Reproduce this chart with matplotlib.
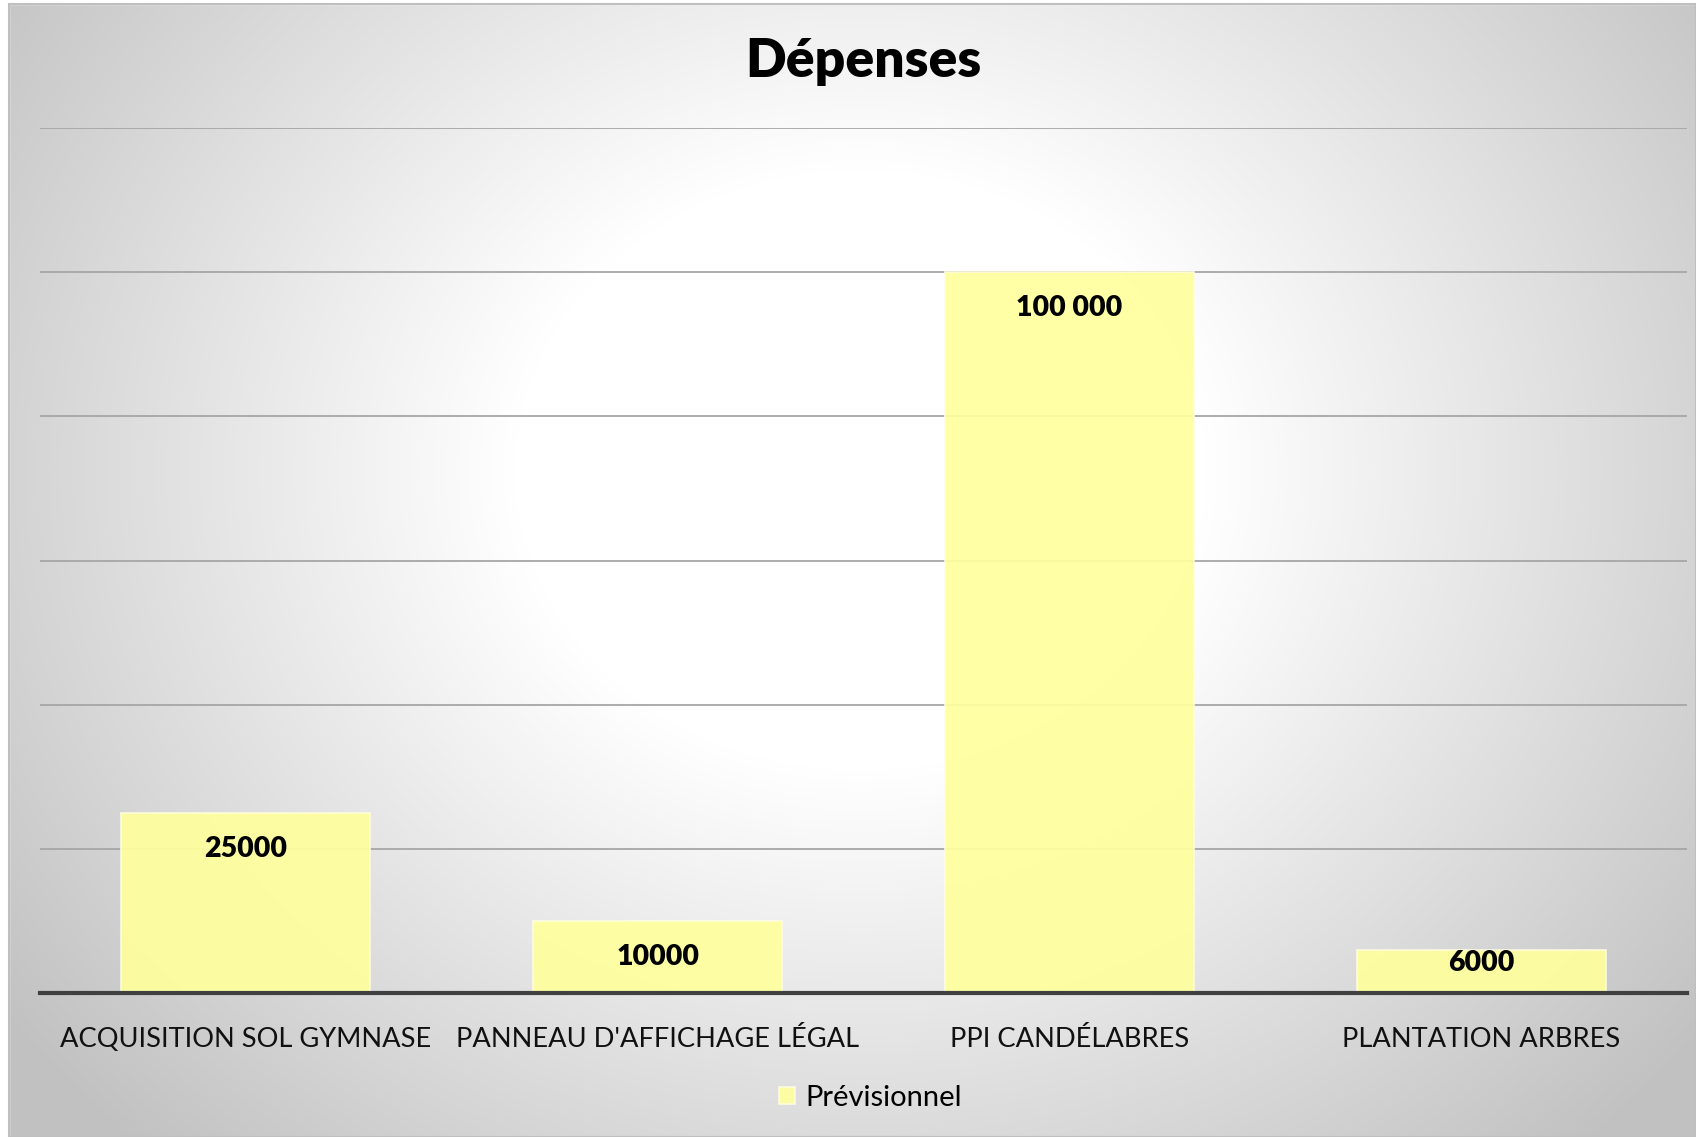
import numpy as np
import matplotlib
matplotlib.use('Agg')
import matplotlib.pyplot as plt
from matplotlib.patches import Rectangle

# Data
categories = ['ACQUISITION SOL GYMNASE', "PANNEAU D'AFFICHAGE LÉGAL",
              'PPI CANDÉLABRES', 'PLANTATION ARBRES']
values = [25000, 10000, 100000, 6000]
value_labels = ['25000', '10000', '100 000', '6000']
series_name = 'Prévisionnel'
title = 'Dépenses'

FONT = 'Lato'
BAR_COLOR = '#ffff9e'
W, H = 1696, 1137
YMAX = 120000
AX_TOP, AX_BOT = 128, 993   # pixel rows of plot area

fig = plt.figure(figsize=(W / 100, H / 100), dpi=100)
fig.patch.set_facecolor('white')

# Background: radial gradient (white centre, grey edges)
bg = fig.add_axes([0, 0, 1, 1], zorder=0)
yy, xx = np.mgrid[0:H, 0:W]
d = np.sqrt(((xx - 860) / 1.15) ** 2 + (yy - 470) ** 2)
t = np.clip((d - 300) / 620, 0, 1)
shade = 1 - 0.24 * t
img = np.dstack([shade, shade, shade])
bg.imshow(img, extent=[0, W, H, 0], aspect='auto', interpolation='bilinear')
# white margin left/top, thin border
bg.add_patch(Rectangle((0, 0), 9, H, color='white', zorder=2))
bg.add_patch(Rectangle((0, 0), W, 4, color='white', zorder=2))
bg.add_patch(Rectangle((9, 4), W - 9, H - 4, fill=False, edgecolor='#bfbfbf', lw=1.5, zorder=3))
bg.set_xlim(0, W)
bg.set_ylim(H, 0)
bg.axis('off')

# Main chart
ax = fig.add_axes([40 / W, 1 - AX_BOT / H, (1687 - 40) / W, (AX_BOT - AX_TOP) / H], zorder=1)
ax.patch.set_alpha(0)
x = np.arange(len(categories))
bars = ax.bar(x, values, width=0.605, color=BAR_COLOR, alpha=0.92,
              edgecolor='#fffde0', linewidth=1.2, zorder=2, label=series_name)
ax.set_xlim(-0.5, len(categories) - 0.5)
ax.set_ylim(0, YMAX)
ax.set_yticks(np.arange(20000, YMAX + 1, 20000))
ax.yaxis.grid(True, color='#a6a6a6', linewidth=1.3, zorder=1)
ax.set_axisbelow(True)
ax.tick_params(axis='y', left=False, labelleft=False)
ax.tick_params(axis='x', bottom=False, pad=21)
ax.set_xticks(x)
ax.set_xticklabels(categories, fontsize=19.6, family=FONT, color='#111111')
for s in ['top', 'right', 'left']:
    ax.spines[s].set_visible(False)
ax.spines['bottom'].set_color('#404040')
ax.spines['bottom'].set_linewidth(3)
ax.spines['bottom'].set_zorder(3)

# labels inside end of bars; very short bars keep the label inside
px_per_unit = (AX_BOT - AX_TOP) / YMAX
for xi, v, lab in zip(x, values, value_labels):
    bar_px = v * px_per_unit
    off_px = 36 if bar_px > 60 else 0.3 * bar_px
    ax.annotate(lab, (xi, v), xytext=(0, -off_px * 0.72), textcoords='offset points',
                ha='center', va='center', fontsize=20.5, fontweight='heavy',
                family=FONT, color='black', zorder=4)

fig.text(863 / W, 1 - 62 / H, title, ha='center', va='center', fontsize=38.5,
         fontweight='heavy', family=FONT, color='black')

leg = fig.legend(handles=[bars], labels=[series_name], loc='center',
                 bbox_to_anchor=(870 / W, 1 - 1098 / H), frameon=False,
                 prop={'family': FONT, 'size': 21}, handlelength=0.55,
                 handleheight=0.55, handletextpad=0.35)

fig.savefig('out.png', dpi=100)
